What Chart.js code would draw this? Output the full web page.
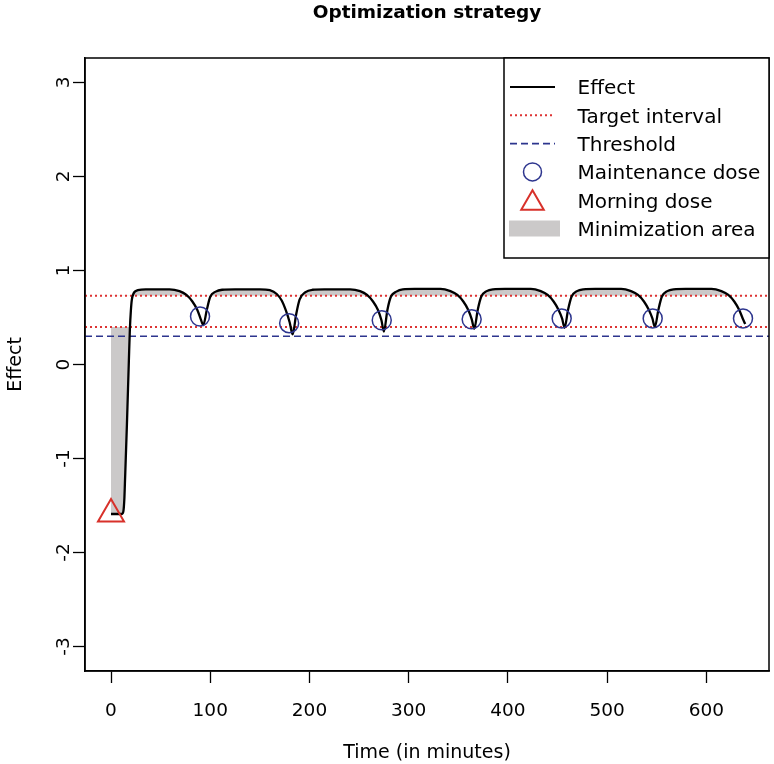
<!DOCTYPE html>
<html>
<head>
<meta charset="utf-8">
<title>Optimization strategy</title>
<script src="https://cdn.jsdelivr.net/npm/chart.js@4.4.1/dist/chart.umd.min.js"></script>
<style>
  html, body { margin: 0; padding: 0; background: #fff; }
  #wrap { width: 774px; height: 764px; }
</style>
</head>
<body>
<div id="wrap"><canvas id="c" width="774" height="764"></canvas></div>
<script>
// --- data --------------------------------------------------------------
var effectTime = [
  0, 11, 12.5, 13.5, 14, 16, 18, 19, 20, 21, 22.5, 24, 27, 35, 50,
  59, 69, 76, 82, 87, 90.5, 93, 96.5, 100, 105.5, 112, 125,
  150, 160, 167, 172, 176, 180, 183, 186.5, 190, 196, 203, 215,
  241, 251, 258, 264, 269, 272.5, 275, 278.5, 282, 287.5, 294, 306,
  332, 342, 349, 355, 360, 363.5, 366, 369.5, 373, 378.5, 385, 397,
  423, 433, 440, 446, 451, 454.5, 457, 460.5, 464, 469.5, 476, 488,
  514, 524, 531, 537, 542, 545.5, 548, 551.5, 555, 560.5, 567, 579,
  605, 615, 622, 628, 633, 636.5, 639
];
var effectValue = [
  -1.59, -1.59, -1.56, -1.42, -1.27, -0.65, 0.04, 0.37, 0.57, 0.69, 0.75, 0.775, 0.79, 0.80, 0.80,
  0.80, 0.78, 0.74, 0.67, 0.58, 0.48, 0.42, 0.58, 0.72, 0.775, 0.795, 0.80,
  0.80, 0.79, 0.75, 0.68, 0.58, 0.45, 0.32, 0.53, 0.69, 0.77, 0.795, 0.80,
  0.80, 0.78, 0.74, 0.67, 0.58, 0.47, 0.35, 0.58, 0.72, 0.775, 0.80, 0.805,
  0.805, 0.78, 0.74, 0.67, 0.58, 0.48, 0.38, 0.58, 0.72, 0.78, 0.80, 0.805,
  0.805, 0.78, 0.74, 0.67, 0.58, 0.49, 0.39, 0.58, 0.72, 0.78, 0.80, 0.805,
  0.805, 0.78, 0.74, 0.67, 0.58, 0.49, 0.40, 0.58, 0.72, 0.78, 0.80, 0.805,
  0.805, 0.78, 0.74, 0.67, 0.58, 0.49, 0.43
];
var maintenanceTime = [89.7, 179.5, 272.8, 363.4, 454.1, 545.8, 636.8];
var maintenanceEffect = [0.51, 0.44, 0.47, 0.48, 0.49, 0.49, 0.49];
var morningTime = [0];
var morningEffect = [-1.59];
var targetInterval = [0.40, 0.73];
var threshold = 0.30;

var xTicks = [0, 100, 200, 300, 400, 500, 600];
var yTicks = [-3, -2, -1, 0, 1, 2, 3];
var X_MIN = -26.2, X_MAX = 663;
var Y_MIN = -3.26, Y_MAX = 3.26;

var legendLabels = ['Effect', 'Target interval', 'Threshold', 'Maintenance dose', 'Morning dose', 'Minimization area'];

// --- styles --------------------------------------------------------------
var GREY = '#cbc9c9';
var RED = '#dd3333';
var NAVY = '#2d358e';
var TRI = '#d8312a';
var FONT = "'DejaVu Sans', 'Liberation Sans', Arial, sans-serif";
var NONE = 'rgba(0,0,0,0)';

function pts(xs, ys) {
  return xs.map(function (x, i) { return { x: x, y: ys[i] }; });
}
function hline(v) {
  return [{ x: X_MIN, y: v }, { x: X_MAX, y: v }];
}

// plot frame + boxed legend in the top-right corner (R style)
var frameLegend = {
  id: 'frameLegend',
  afterDraw: function (chart) {
    var ctx = chart.ctx, a = chart.chartArea;
    ctx.save();
    ctx.strokeStyle = '#000';
    ctx.lineWidth = 1.5;
    ctx.strokeRect(a.left, a.top, a.right - a.left, a.bottom - a.top);

    var L = 504, T = a.top, R = a.right, B = 258;
    ctx.fillStyle = '#fff';
    ctx.fillRect(L, T, R - L, B - T);
    ctx.strokeRect(L, T, R - L, B - T);

    var sx0 = L + 6, sx1 = L + 51, cx = L + 28.5, tx = L + 73.5;
    ctx.font = '20px ' + FONT;
    ctx.textBaseline = 'alphabetic';
    ctx.textAlign = 'left';
    legendLabels.forEach(function (label, i) {
      var y = T + 29 + i * 28.3;
      ctx.save();
      if (i === 0 || i === 1 || i === 2) {
        ctx.beginPath();
        ctx.moveTo(sx0, y); ctx.lineTo(sx1, y);
        if (i === 0) { ctx.strokeStyle = '#000'; ctx.lineWidth = 2.2; }
        if (i === 1) { ctx.strokeStyle = RED; ctx.lineWidth = 2; ctx.setLineDash([2, 3]); }
        if (i === 2) { ctx.strokeStyle = NAVY; ctx.lineWidth = 1.6; ctx.setLineDash([7, 4]); }
        ctx.stroke();
      } else if (i === 3) {
        ctx.beginPath();
        ctx.arc(cx, y, 9, 0, Math.PI * 2);
        ctx.strokeStyle = NAVY; ctx.lineWidth = 1.5;
        ctx.stroke();
      } else if (i === 4) {
        var r = 13, yc = y + 3;
        ctx.beginPath();
        ctx.moveTo(cx, yc - r);
        ctx.lineTo(cx + r * 0.866, yc + r / 2);
        ctx.lineTo(cx - r * 0.866, yc + r / 2);
        ctx.closePath();
        ctx.strokeStyle = TRI; ctx.lineWidth = 2;
        ctx.stroke();
      } else {
        ctx.fillStyle = GREY;
        ctx.fillRect(L + 5, y - 8, 51, 16);
      }
      ctx.restore();
      ctx.fillStyle = '#000';
      ctx.fillText(label, tx, y + 7.3);
    });
    ctx.restore();
  }
};

var ctx = document.getElementById('c').getContext('2d');
new Chart(ctx, {
  type: 'line',
  data: {
    datasets: [
      { label: 'Morning dose', data: pts(morningTime, morningEffect), showLine: false,
        pointStyle: 'triangle', pointRadius: 15, borderColor: TRI, borderWidth: 2,
        backgroundColor: NONE, fill: false },
      { label: 'Maintenance dose', data: pts(maintenanceTime, maintenanceEffect), showLine: false,
        pointStyle: 'circle', pointRadius: 9.5, borderColor: NAVY, borderWidth: 1.5,
        backgroundColor: NONE, fill: false },
      { label: 'Effect', data: pts(effectTime, effectValue), borderColor: '#000', borderWidth: 2.3,
        pointRadius: 0, cubicInterpolationMode: 'monotone',
        fill: { target: { value: targetInterval[1] }, above: GREY, below: NONE } },
      { label: 'Target interval', data: hline(targetInterval[1]), borderColor: RED, borderWidth: 2,
        borderDash: [2, 3], pointRadius: 0, fill: false },
      { label: 'Target interval (low)', data: hline(targetInterval[0]), borderColor: RED, borderWidth: 2,
        borderDash: [2, 3], pointRadius: 0, fill: false },
      { label: 'Threshold', data: hline(threshold), borderColor: NAVY, borderWidth: 1.6,
        borderDash: [7, 4], pointRadius: 0, fill: false },
      { label: 'Minimization area', data: pts(effectTime, effectValue), borderColor: NONE, borderWidth: 0,
        pointRadius: 0, cubicInterpolationMode: 'monotone',
        fill: { target: { value: targetInterval[0] }, above: NONE, below: GREY } }
    ]
  },
  options: {
    responsive: false,
    animation: false,
    devicePixelRatio: 1,
    layout: { autoPadding: false, padding: { left: 0, right: 5, top: 0, bottom: 0 } },
    events: [],
    plugins: {
      legend: { display: false },
      tooltip: { enabled: false },
      filler: { propagate: false, drawTime: 'beforeDatasetsDraw' },
      title: {
        display: true,
        fullSize: false,
        text: 'Optimization strategy',
        color: '#000',
        font: { family: FONT, size: 18.5, weight: 'bold' },
        padding: { top: 2, bottom: 33.8 }
      }
    },
    scales: {
      x: {
        type: 'linear',
        min: X_MIN, max: X_MAX,
        afterBuildTicks: function (s) { s.ticks = xTicks.map(function (v) { return { value: v }; }); },
        afterFit: function (s) { s.height = 93; s.paddingLeft = 0; s.paddingRight = 0; },
        grid: { display: true, drawOnChartArea: false, drawTicks: true, tickLength: 12, tickColor: '#000', tickWidth: 1.3 },
        border: { display: true, color: '#000', width: 1.5 },
        ticks: { color: '#000', font: { family: FONT, size: 18.5 }, padding: 17, maxRotation: 0, autoSkip: false },
        title: { display: true, text: 'Time (in minutes)', color: '#000', font: { family: FONT, size: 19 }, padding: { top: 0, bottom: 0 } }
      },
      y: {
        type: 'linear',
        min: Y_MIN, max: Y_MAX,
        afterBuildTicks: function (s) { s.ticks = yTicks.map(function (v) { return { value: v }; }); },
        afterFit: function (s) { s.width = 85; s.paddingTop = 0; s.paddingBottom = 0; },
        grid: { display: true, drawOnChartArea: false, drawTicks: true, tickLength: 12, tickColor: '#000', tickWidth: 1.3 },
        border: { display: true, color: '#000', width: 1.5 },
        ticks: { color: '#000', font: { family: FONT, size: 18.5 }, padding: 0, minRotation: 90, maxRotation: 90, crossAlign: 'center', autoSkip: false },
        title: { display: true, text: 'Effect', color: '#000', font: { family: FONT, size: 19 }, padding: { top: 5, bottom: 0 } }
      }
    }
  },
  plugins: [frameLegend]
});
</script>
</body>
</html>
